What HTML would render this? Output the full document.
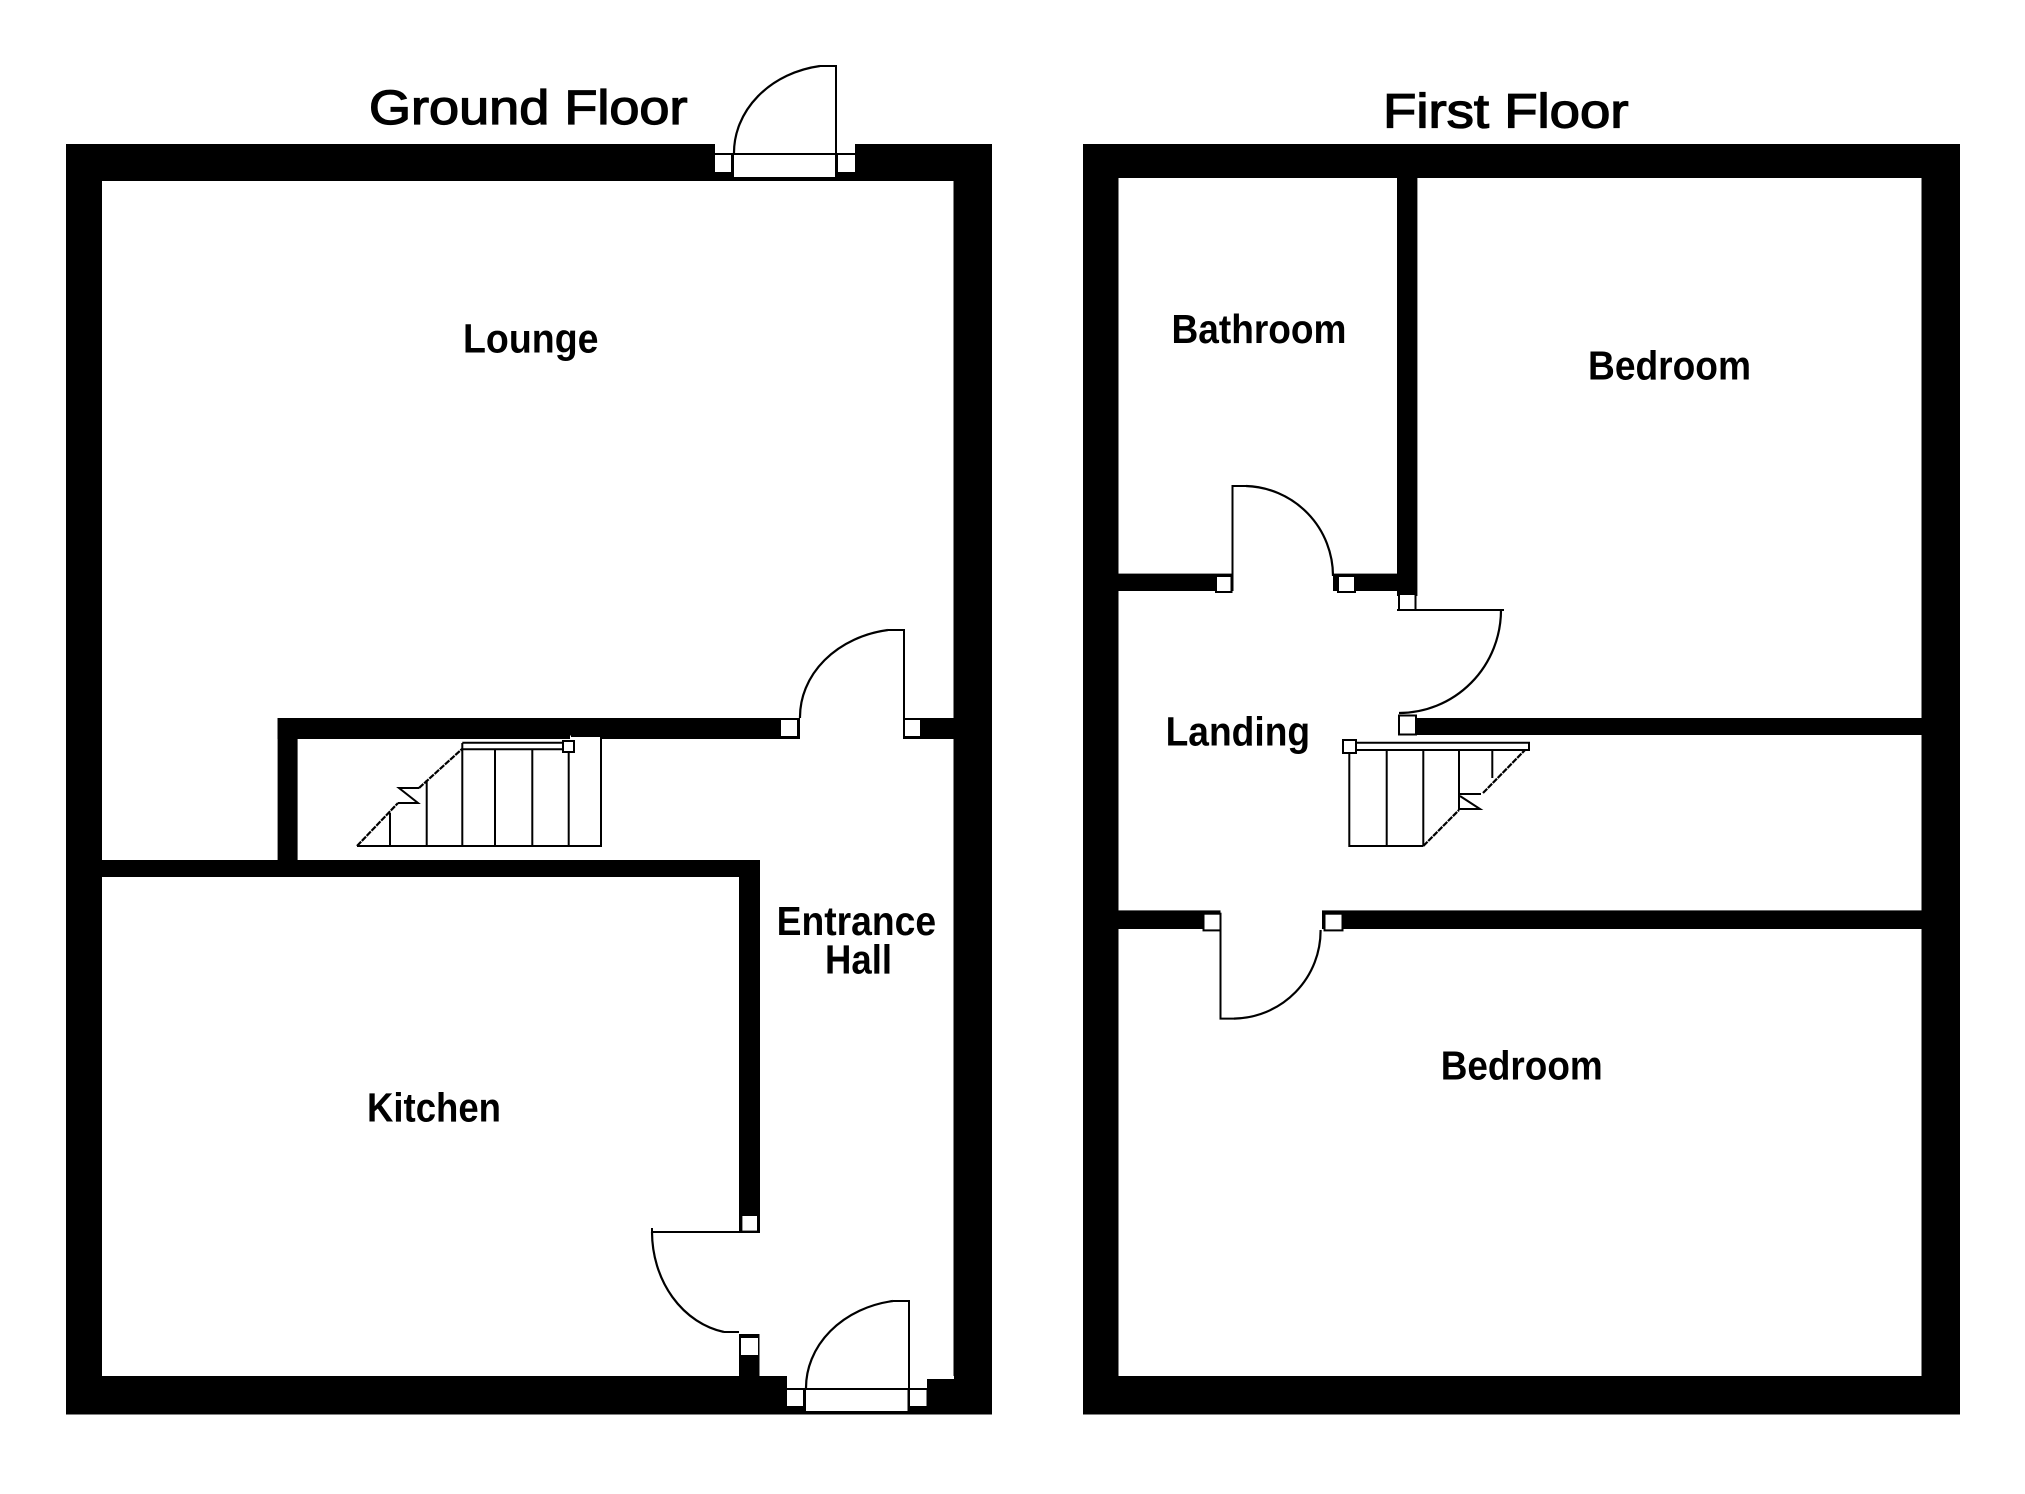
<!DOCTYPE html>
<html>
<head>
<meta charset="utf-8">
<style>
html,body{margin:0;padding:0;background:#fff;width:2025px;height:1494px;overflow:hidden}
svg{display:block}
text{font-family:"Liberation Sans",sans-serif;fill:#000}
.r{font-size:41px;font-weight:bold}
.t{font-size:48px;font-weight:normal;stroke:#000;stroke-width:1.3px}
.l{fill:none;stroke:#000;stroke-width:2}
.s{fill:#fff;stroke:#000;stroke-width:2}
.d{fill:none;stroke:#000;stroke-width:2.2}
.e{fill:none;stroke:#000;stroke-width:2.2;stroke-dasharray:6 1}
</style>
</head>
<body>
<svg width="2025" height="1494" viewBox="0 0 2025 1494" xmlns="http://www.w3.org/2000/svg">
<rect width="2025" height="1494" fill="#fff"/>

<!-- GROUND FLOOR walls -->
<rect x="66" y="144" width="926" height="1270.5" fill="#000"/>
<rect x="102" y="181" width="851.5" height="1195" fill="#fff"/>
<rect x="277.6" y="718" width="522.4" height="21" fill="#000"/>
<rect x="904" y="718" width="50" height="21" fill="#000"/>
<rect x="277.6" y="718" width="20" height="150" fill="#000"/>
<rect x="102" y="860" width="658" height="17" fill="#000"/>
<rect x="739" y="860" width="21" height="372.5" fill="#000"/>
<rect x="739" y="1334" width="20.5" height="50" fill="#000"/>
<rect x="759" y="1376" width="30" height="10" fill="#000"/>
<rect x="787" y="1376" width="140" height="13" fill="#fff"/>
<rect x="927" y="1376" width="27" height="3" fill="#fff"/>

<!-- top door -->
<rect x="715" y="144" width="140" height="10" fill="#fff"/>
<path class="l" d="M715 154H855"/>
<rect class="s" x="733" y="154" width="103" height="24"/>
<rect x="715" y="155" width="16" height="17" fill="#fff"/>
<rect x="838" y="155" width="17" height="17" fill="#fff"/>
<path class="l" d="M836 154V66H820"/>
<path class="d" d="M734 154A102 88 0 0 1 820 66"/>

<!-- lounge door -->
<rect x="781" y="720" width="16" height="16" fill="#fff"/>
<rect x="905" y="720" width="15" height="16" fill="#fff"/>
<path class="l" d="M904 739V630H888"/>
<path class="d" d="M800 718A104 88 0 0 1 888 630"/>

<!-- kitchen door -->
<rect x="742.4" y="1216" width="14.6" height="14.6" fill="#fff"/>
<path class="l" d="M760 1232H652V1228"/>
<path class="d" d="M652 1232A88 102 0 0 0 724 1332"/>
<path class="l" d="M724 1332H739"/>
<rect x="741" y="1338" width="17" height="17" fill="#fff"/>

<!-- front door -->
<path class="l" d="M787 1389H927"/>
<rect class="s" x="805" y="1389" width="103.5" height="23"/>
<rect x="787" y="1390" width="16" height="16" fill="#fff"/>
<rect x="910" y="1390" width="16.5" height="16" fill="#fff"/>
<path class="l" d="M909 1389V1301H893"/>
<path class="d" d="M806 1389A103 88 0 0 1 893 1301"/>

<!-- ground stairs -->
<rect x="570" y="735.5" width="31" height="6" fill="#fff"/>
<path class="l" d="M357 846H601V736H571"/>
<path class="l" d="M390 846V813M426.7 846V780M462.3 846V743M495 846V749M532.3 846V749M568.7 846V752"/>
<path class="l" d="M462.3 742.7H563M462.3 749.3H563"/>
<rect class="s" x="563" y="741" width="11" height="11"/>
<path class="e" d="M357 846L398 803M419 788L462 749"/>
<path class="l" d="M419 788H399L418 803H398"/>

<!-- FIRST FLOOR walls -->
<rect x="1083" y="144" width="877" height="1270.5" fill="#000"/>
<rect x="1118.5" y="178" width="803" height="1198" fill="#fff"/>
<rect x="1397" y="178" width="20.4" height="418" fill="#000"/>
<rect x="1118.5" y="573.6" width="113" height="17.4" fill="#000"/>
<rect x="1333" y="573.6" width="64" height="17.4" fill="#000"/>
<rect x="1415" y="718" width="507" height="17" fill="#000"/>
<rect x="1118.5" y="910.4" width="102" height="18.6" fill="#000"/>
<rect x="1322" y="910.4" width="600" height="18.6" fill="#000"/>

<!-- bathroom door -->
<rect class="s" x="1216" y="576" width="15.5" height="16"/>
<path class="l" d="M1232.5 591V486H1246"/>
<path class="d" d="M1246 486A90 90 0 0 1 1333 576"/>
<rect class="s" x="1338" y="576" width="17" height="16"/>

<!-- bedroom door -->
<rect class="s" x="1399" y="594" width="16.5" height="16"/>
<path class="l" d="M1397 610H1504"/>
<path class="d" d="M1501 610A102 103 0 0 1 1399 713"/>
<rect class="s" x="1399" y="715.5" width="17" height="19"/>

<!-- lower bedroom door -->
<rect class="s" x="1203.5" y="913.7" width="17" height="16.7"/>
<path class="l" d="M1220.5 930V1018.6H1234"/>
<path class="d" d="M1234 1018.6A88 88 0 0 0 1320.6 930"/>
<rect class="s" x="1324.5" y="913.7" width="18" height="16.7"/>

<!-- first stairs -->
<path class="l" d="M1349.3 750V846H1423.3"/>
<path class="l" d="M1356 742.7H1529V750H1356"/>
<path class="l" d="M1386.7 846V750M1423.3 846V750M1459 810V750M1492.3 778V750"/>
<rect class="s" x="1343" y="740" width="13" height="13"/>
<path class="e" d="M1423.3 846L1459 810M1483 793L1525 750"/>
<path class="l" d="M1459 794H1481M1460 796L1480 809H1459"/>

<!-- labels -->
<text class="t" x="369" y="124" textLength="318.5" lengthAdjust="spacingAndGlyphs">Ground Floor</text>
<text class="t" x="1383" y="127.6" textLength="245.5" lengthAdjust="spacingAndGlyphs">First Floor</text>
<text class="r" x="463" y="352.5" textLength="135.5" lengthAdjust="spacingAndGlyphs">Lounge</text>
<text class="r" x="367" y="1121.5" textLength="134" lengthAdjust="spacingAndGlyphs">Kitchen</text>
<text class="r" x="776.6" y="935" textLength="159.5" lengthAdjust="spacingAndGlyphs">Entrance</text>
<text class="r" x="825" y="973.3" textLength="67" lengthAdjust="spacingAndGlyphs">Hall</text>
<text class="r" x="1171.5" y="343" textLength="175" lengthAdjust="spacingAndGlyphs">Bathroom</text>
<text class="r" x="1588" y="379.5" textLength="163" lengthAdjust="spacingAndGlyphs">Bedroom</text>
<text class="r" x="1165.6" y="745.5" textLength="144.5" lengthAdjust="spacingAndGlyphs">Landing</text>
<text class="r" x="1440.7" y="1079.5" textLength="162" lengthAdjust="spacingAndGlyphs">Bedroom</text>
</svg>
</body>
</html>
